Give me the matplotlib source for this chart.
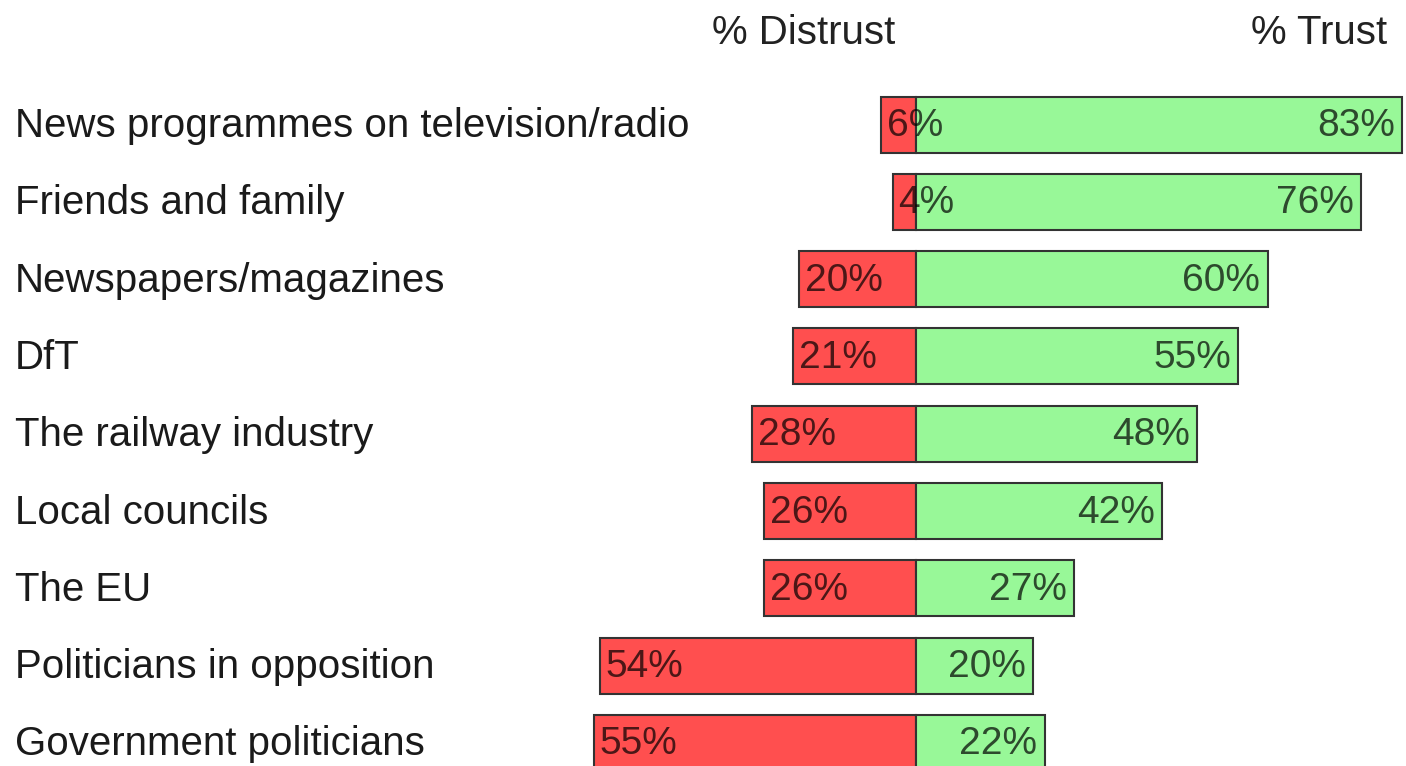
import matplotlib.pyplot as plt

plt.rcParams['font.family'] = ['Liberation Sans', 'DejaVu Sans']

sources = ['News programmes on television/radio', 'Friends and family',
           'Newspapers/magazines', 'DfT', 'The railway industry',
           'Local councils', 'The EU', 'Politicians in opposition',
           'Government politicians']
distrust = [6, 4, 20, 21, 28, 26, 26, 54, 55]
trust = [83, 76, 60, 55, 48, 42, 27, 20, 22]

fig = plt.figure(figsize=(14.06, 7.66), dpi=100)
ax = fig.add_axes([0, 0, 1, 1])
ax.set_xlim(-156.3, 83.6)
ax.set_ylim(8.299, -1.611)
ax.axis('off')

rows = range(len(sources))
ax.barh(rows, [-d for d in distrust], height=0.725, color='#ff4f4f',
        edgecolor='#333333', linewidth=1.5)
ax.barh(rows, trust, height=0.725, color='#98f898',
        edgecolor='#333333', linewidth=1.5)

fs = 29
for i, (name, d, t) in enumerate(zip(sources, distrust, trust)):
    ax.text(-153.75, i + 0.02, name, ha='left', va='center', fontsize=fs,
            color='#1a1a1a')
    ax.text(-d + 1.0, i + 0.02, f'{d}%', ha='left', va='center',
            fontsize=28, color='black', alpha=0.7)
    ax.text(t - 1.3, i + 0.02, f'{t}%', ha='right', va='center',
            fontsize=28, color='black', alpha=0.7)

ax.text(-3.6, -1.19, '% Distrust', ha='right', va='center', fontsize=fs,
        color='#222222')
ax.text(80.4, -1.19, '% Trust', ha='right', va='center', fontsize=fs,
        color='#222222')

fig.savefig('out.png', dpi=100)
